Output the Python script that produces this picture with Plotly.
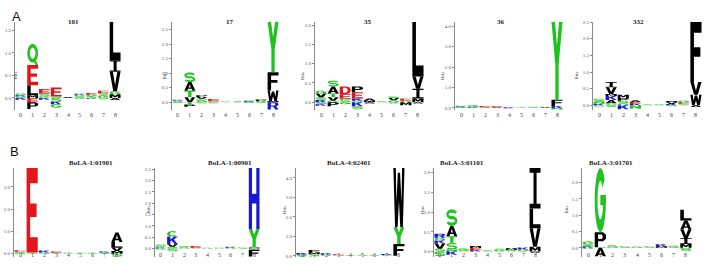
import math
import plotly.graph_objects as go

# ---------------- data ----------------
titles = ["101", "17", "35", "36", "332",
          "BoLA-1:01901", "BoLA-1:00901", "BoLA-4:02401", "BoLA-3:01101", "BoLA-3:01701"]
row_labels = ["A", "B"]
position_labels = ["0", "1", "2", "3", "4", "5", "6", "7", "8"]
end_labels = ["N", "C"]

# letter stacks per position (0..8), bottom -> top, heights in bits
pos_101 = [[("S", 0.03), ("K", 0.03), ("G", 0.04)],
           [("M", 0.06), ("L", 0.22), ("E", 0.45), ("Q", 0.47)],
           [("G", 0.04), ("S", 0.06), ("E", 0.1)],
           [("S", 0.03), ("E", 0.2)],
           [("V", 0.02)],
           [("S", 0.03), ("G", 0.04), ("K", 0.02)],
           [("S", 0.04), ("G", 0.03), ("E", 0.04)],
           [("G", 0.05), ("S", 0.06), ("E", 0.05)],
           [("M", 0.08), ("G", 0.07), ("V", 0.43), ("I", 0.26), ("L", 0.85)]]
neg_101 = [[("K", 0.04)], [("E", 0.1), ("P", 0.15)], [("K", 0.04)],
           [("S", 0.08), ("K", 0.06), ("G", 0.08)], [], [("G", 0.02)],
           [("K", 0.02)], [("S", 0.03)], [("A", 0.05)]]

pos_17 = [[("S", 0.03), ("G", 0.03), ("K", 0.02)],
          [("V", 0.17), ("T", 0.23), ("A", 0.29), ("S", 0.33)],
          [("G", 0.06), ("S", 0.06), ("V", 0.06), ("P", 0.06)],
          [("S", 0.03), ("E", 0.08)],
          [("G", 0.03)],
          [("S", 0.02)],
          [("K", 0.03), ("S", 0.04)],
          [("G", 0.04), ("P", 0.05)],
          [("M", 0.04), ("W", 0.36), ("F", 0.63), ("Y", 1.73)]]
neg_17 = [[("G", 0.03)], [("T", 0.08), ("P", 0.08)], [("S", 0.04)], [("G", 0.04)],
          [], [], [("S", 0.03)], [("G", 0.03)], [("R", 0.25)]]

pos_35 = [[("K", 0.06), ("S", 0.07), ("V", 0.1), ("G", 0.07)],
          [("G", 0.04), ("V", 0.09), ("T", 0.1), ("A", 0.18), ("S", 0.15)],
          [("S", 0.05), ("G", 0.04), ("E", 0.12), ("D", 0.2)],
          [("S", 0.04), ("K", 0.06), ("E", 0.16), ("P", 0.15)],
          [("M", 0.05), ("A", 0.05)],
          [("S", 0.02)],
          [("G", 0.05), ("V", 0.06), ("S", 0.04)],
          [("G", 0.04), ("E", 0.06)],
          [("M", 0.1), ("I", 0.25), ("V", 0.32), ("L", 1.41)]]
neg_35 = [[("S", 0.05), ("K", 0.04)], [("P", 0.1)], [("G", 0.05)],
          [("K", 0.1), ("S", 0.08)], [("A", 0.03)], [], [("G", 0.03)],
          [("M", 0.08)], [("A", 0.03)]]

pos_36 = [[("G", 0.03), ("K", 0.04), ("S", 0.04)],
          [("K", 0.03), ("G", 0.04), ("S", 0.08)],
          [("S", 0.04), ("E", 0.05)],
          [("A", 0.03), ("E", 0.05)],
          [("K", 0.03)],
          [("S", 0.04)],
          [("G", 0.03), ("S", 0.03)],
          [("V", 0.03), ("S", 0.03)],
          [("K", 0.1), ("F", 0.3), ("Y", 3.8)]]
neg_36 = [[], [], [], [], [("K", 0.02)], [], [], [], [("N", 0.08)]]

pos_332 = [[("K", 0.05), ("N", 0.05), ("S", 0.1)],
           [("S", 0.06), ("A", 0.1), ("K", 0.12), ("M", 0.06), ("V", 0.2), ("I", 0.16)],
           [("G", 0.06), ("S", 0.08), ("P", 0.08), ("M", 0.1)],
           [("K", 0.04), ("E", 0.06), ("A", 0.05)],
           [("S", 0.03)],
           [("G", 0.03)],
           [("K", 0.04), ("V", 0.05), ("M", 0.04)],
           [("S", 0.05), ("E", 0.04), ("G", 0.05)],
           [("W", 0.32), ("V", 0.38), ("F", 1.8)]]
neg_332 = [[("G", 0.04)], [("S", 0.05)], [("K", 0.12)], [("N", 0.1)], [], [],
           [("S", 0.03)], [], [("A", 0.05)]]

pos_01901 = [[("G", 0.05), ("S", 0.04), ("E", 0.06)],
             [("S", 0.05), ("E", 3.8)],
             [("G", 0.05), ("K", 0.09)],
             [("S", 0.04), ("E", 0.06)],
             [("G", 0.04)],
             [("S", 0.04)],
             [("G", 0.04)],
             [("S", 0.05), ("K", 0.05)],
             [("M", 0.12), ("V", 0.15), ("L", 0.25), ("A", 0.43)]]
neg_01901 = [[("G", 0.03)], [("S", 0.03)], [], [], [], [], [], [("G", 0.02)], [("S", 0.13)]]

pos_00901 = [[("K", 0.05), ("G", 0.06), ("S", 0.07)],
             [("S", 0.08), ("V", 0.11), ("K", 0.34), ("C", 0.24)],
             [("G", 0.05), ("S", 0.07)],
             [("S", 0.04), ("E", 0.08)],
             [("G", 0.04)],
             [("S", 0.04)],
             [("G", 0.04), ("K", 0.04)],
             [("S", 0.05)],
             [("M", 0.05), ("Y", 0.8), ("H", 2.7)]]
neg_00901 = [[("G", 0.04)], [("S", 0.12)], [], [], [], [], [], [], [("S", 0.05), ("F", 0.3)]]

pos_02401 = [[("G", 0.05), ("K", 0.1)],
             [("S", 0.08), ("M", 0.1), ("F", 0.12)],
             [("G", 0.05), ("K", 0.08)],
             [("S", 0.03), ("E", 0.05)],
             [("G", 0.04)],
             [("S", 0.05)],
             [("G", 0.04)],
             [("S", 0.04), ("K", 0.05)],
             [("F", 0.6), ("Y", 0.87), ("W", 3.03)]]
neg_02401 = [[("S", 0.03)], [("G", 0.04)], [], [], [], [], [], [], []]

pos_01101 = [[("S", 0.07), ("V", 0.13), ("K", 0.08), ("G", 0.07), ("R", 0.1)],
             [("N", 0.05), ("S", 0.17), ("T", 0.17), ("A", 0.26), ("S", 0.42)],
             [("S", 0.04), ("G", 0.04)],
             [("K", 0.04), ("E", 0.05), ("M", 0.05)],
             [("S", 0.03)],
             [("G", 0.04), ("S", 0.03)],
             [("S", 0.04), ("M", 0.04)],
             [("G", 0.05), ("K", 0.05)],
             [("M", 0.12), ("V", 0.47), ("L", 0.5), ("I", 1.03)]]
neg_01101 = [[("S", 0.12)], [("K", 0.08)], [], [], [], [], [], [], [("A", 0.03)]]

pos_01701 = [[("K", 0.05), ("S", 0.06), ("G", 0.09)],
             [("S", 0.03), ("P", 0.45), ("G", 1.97)],
             [("G", 0.04), ("S", 0.04)],
             [("S", 0.05)],
             [("G", 0.04)],
             [("S", 0.05)],
             [("M", 0.05), ("K", 0.06)],
             [("S", 0.04), ("G", 0.03)],
             [("M", 0.12), ("I", 0.18), ("V", 0.26), ("A", 0.28), ("L", 0.33)]]
neg_01701 = [[("G", 0.03)], [("A", 0.26)], [], [], [], [], [], [], [("S", 0.1)]]

pos_stacks = [pos_101, pos_17, pos_35, pos_36, pos_332,
              pos_01901, pos_00901, pos_02401, pos_01101, pos_01701]
neg_stacks = [neg_101, neg_17, neg_35, neg_36, neg_332,
              neg_01901, neg_00901, neg_02401, neg_01101, neg_01701]
y_dticks = [0.5, 0.5, 0.5, 1, 0.5, 1, 0.5, 1, 0.5, 0.5]

# ---------------- styles ----------------
GREEN, RED, BLUE, BLACK = "#1fc21f", "#e3161c", "#1818d6", "#000000"
letter_color = {}
for ch in "STYQGCN":
    letter_color[ch] = GREEN
for ch in "ED":
    letter_color[ch] = RED
for ch in "KRH":
    letter_color[ch] = BLUE
for ch in "AVLIPWFM":
    letter_color[ch] = BLACK


def arc(cx, cy, rx, ry, a0, a1, n=22):
    pts = []
    for i in range(n + 1):
        a = math.radians(a0 + (a1 - a0) * i / n)
        pts.append((cx + rx * math.cos(a), cy + ry * math.sin(a)))
    return pts


# glyph outlines in a unit box; each glyph is a list of parts, each part a list of sub-paths (evenodd)
S_path = (arc(0.5, 0.7, 0.5, 0.3, 20, 270) + arc(0.5, 0.3, 0.3, 0.1, 90, -160)
          + arc(0.5, 0.3, 0.5, 0.3, -160, 90) + arc(0.5, 0.7, 0.3, 0.1, 270, 20))
G_path = (arc(0.5, 0.5, 0.5, 0.5, 40, 360) + [(1.0, 0.58), (0.5, 0.58), (0.5, 0.42), (0.74, 0.42)]
          + arc(0.5, 0.5, 0.25, 0.3, 345, 40))
C_path = arc(0.5, 0.5, 0.5, 0.5, 45, 315) + arc(0.5, 0.5, 0.25, 0.3, 315, 45)
GLYPHS = {
    "L": [[[(0, 0), (1, 0), (1, 0.2), (0.32, 0.2), (0.32, 1), (0, 1)]]],
    "E": [[[(0, 0), (1, 0), (1, 0.18), (0.32, 0.18), (0.32, 0.42), (0.9, 0.42), (0.9, 0.58),
            (0.32, 0.58), (0.32, 0.82), (1, 0.82), (1, 1), (0, 1)]]],
    "F": [[[(0, 0), (0.32, 0), (0.32, 0.42), (0.9, 0.42), (0.9, 0.58), (0.32, 0.58),
            (0.32, 0.82), (1, 0.82), (1, 1), (0, 1)]]],
    "T": [[[(0.35, 0), (0.65, 0), (0.65, 0.82), (1, 0.82), (1, 1), (0, 1), (0, 0.82), (0.35, 0.82)]]],
    "I": [[[(0, 0), (1, 0), (1, 0.12), (0.64, 0.12), (0.64, 0.88), (1, 0.88), (1, 1), (0, 1),
            (0, 0.88), (0.36, 0.88), (0.36, 0.12), (0, 0.12)]]],
    "H": [[[(0, 0), (0.3, 0), (0.3, 0.42), (0.7, 0.42), (0.7, 0), (1, 0), (1, 1), (0.7, 1),
            (0.7, 0.58), (0.3, 0.58), (0.3, 1), (0, 1)]]],
    "V": [[[(0.33, 0), (0.67, 0), (1, 1), (0.7, 1), (0.5, 0.3), (0.3, 1), (0, 1)]]],
    "Y": [[[(0.35, 0), (0.65, 0), (0.65, 0.45), (1, 1), (0.68, 1), (0.5, 0.7), (0.32, 1),
            (0, 1), (0.35, 0.45)]]],
    "W": [[[(0.15, 0), (0.38, 0), (0.5, 0.45), (0.62, 0), (0.85, 0), (1, 1), (0.78, 1),
            (0.73, 0.42), (0.6, 0.92), (0.4, 0.92), (0.27, 0.42), (0.22, 1), (0, 1)]]],
    "A": [[[(0, 0), (0.28, 0), (0.34, 0.2), (0.66, 0.2), (0.72, 0), (1, 0), (0.64, 1), (0.36, 1)],
           [(0.4, 0.35), (0.6, 0.35), (0.5, 0.72)]]],
    "P": [[[(0, 0), (0.3, 0), (0.3, 0.38), (0.75, 0.38), (1, 0.55), (1, 0.83), (0.75, 1), (0, 1)],
           [(0.3, 0.54), (0.62, 0.54), (0.7, 0.6), (0.7, 0.78), (0.62, 0.84), (0.3, 0.84)]]],
    "R": [[[(0, 0), (0.3, 0), (0.3, 0.4), (0.5, 0.4), (0.7, 0), (1, 0), (0.78, 0.45), (1, 0.6),
            (1, 0.83), (0.75, 1), (0, 1)],
           [(0.3, 0.55), (0.62, 0.55), (0.7, 0.6), (0.7, 0.78), (0.62, 0.84), (0.3, 0.84)]]],
    "D": [[[(0, 0), (0.6, 0), (0.9, 0.15), (1, 0.5), (0.9, 0.85), (0.6, 1), (0, 1)],
           [(0.3, 0.18), (0.55, 0.18), (0.68, 0.3), (0.72, 0.5), (0.68, 0.7), (0.55, 0.82), (0.3, 0.82)]]],
    "K": [[[(0, 0), (0.3, 0), (0.3, 0.35), (0.42, 0.48), (0.72, 0), (1, 0), (0.62, 0.62), (1, 1),
            (0.65, 1), (0.3, 0.62), (0.3, 1), (0, 1)]]],
    "M": [[[(0, 0), (0.25, 0), (0.25, 0.6), (0.42, 0.2), (0.58, 0.2), (0.75, 0.6), (0.75, 0),
            (1, 0), (1, 1), (0.7, 1), (0.5, 0.55), (0.3, 1), (0, 1)]]],
    "N": [[[(0, 0), (0.28, 0), (0.28, 0.55), (0.72, 0), (1, 0), (1, 1), (0.72, 1), (0.72, 0.45),
            (0.28, 1), (0, 1)]]],
    "S": [[S_path]],
    "G": [[G_path]],
    "C": [[C_path]],
    "Q": [[arc(0.5, 0.56, 0.5, 0.44, 0, 360), arc(0.5, 0.56, 0.26, 0.26, 0, 360)],
          [[(0.52, 0.28), (0.74, 0.28), (1.0, 0.0), (0.76, 0.0)]]],
}

# ---------------- geometry (pixels) ----------------
W, H = 709, 265
panel_left = [15, 172, 315, 455, 593, 14, 155, 296, 434, 582]
panel_right = [121, 279, 424, 563, 702, 123, 260, 405, 541, 692]
row_top = [22, 168]
row_bottom = [110, 257]
row_label_y = [115, 260]
row_title_y = [16, 163]
letter_width = 0.92


def px_x(p):
    return p / W


def px_y(p):
    return 1 - p / H


def glyph_path(letter, xc, y0, h):
    out = []
    for part in GLYPHS[letter]:
        segs = []
        for sub in part:
            pts = ["%.4f,%.5f" % (xc - letter_width / 2 + ux * letter_width, y0 + uy * h) for ux, uy in sub]
            segs.append("M" + "L".join(pts) + "Z")
        out.append("".join(segs))
    return out


fig = go.Figure()
shapes = []
annotations = []
layout_axes = {}

for i in range(10):
    k = i + 1
    row = 0 if i < 5 else 1
    xa = "x" if k == 1 else "x%d" % k
    ya = "y" if k == 1 else "y%d" % k
    pos = pos_stacks[i]
    neg = neg_stacks[i]
    tot_pos = [sum(h for _, h in col) for col in pos]
    tot_neg = [sum(h for _, h in col) for col in neg]
    ymax = max(tot_pos)
    ymin = -(max(tot_neg) + 0.02)

    # invisible anchor trace (keeps the axes alive)
    fig.add_trace(go.Scatter(x=list(range(9)), y=tot_pos, mode="markers",
                             marker=dict(opacity=0), hoverinfo="skip", showlegend=False,
                             xaxis=xa, yaxis=ya))

    for p in range(9):
        y = 0.0
        for letter, h in pos[p]:
            for path in glyph_path(letter, p, y, h):
                shapes.append(dict(type="path", path=path, xref=xa, yref=ya,
                                   fillcolor=letter_color[letter], line=dict(width=0),
                                   fillrule="evenodd", layer="above"))
            y += h
        y = 0.0
        for letter, h in neg[p]:
            for path in glyph_path(letter, p, y - h, h):
                shapes.append(dict(type="path", path=path, xref=xa, yref=ya,
                                   fillcolor=letter_color[letter], line=dict(width=0),
                                   fillrule="evenodd", layer="above"))
            y -= h

    xname = "xaxis" if k == 1 else "xaxis%d" % k
    yname = "yaxis" if k == 1 else "yaxis%d" % k
    layout_axes[xname] = dict(domain=[px_x(panel_left[i]), px_x(panel_right[i])],
                              range=[-0.5, 8.5], anchor=ya, showline=False, showgrid=False,
                              zeroline=False, showticklabels=False, ticks="", fixedrange=True,
                              automargin=False)
    layout_axes[yname] = dict(domain=[px_y(row_bottom[row]), px_y(row_top[row])],
                              range=[ymin, ymax], anchor=xa, showline=True, linecolor="#8a8a8a",
                              linewidth=1, ticks="outside", ticklen=2, tickcolor="#8a8a8a",
                              tick0=0, dtick=y_dticks[i], tickformat=".1f", showgrid=False,
                              zeroline=False, fixedrange=True, automargin=False,
                              tickfont=dict(size=5, color="#555555", family="Liberation Serif"))

    # position labels N 0..8 C
    for p in range(9):
        annotations.append(dict(x=p, y=px_y(row_label_y[row]), xref=xa, yref="paper",
                                text=position_labels[p], showarrow=False,
                                font=dict(size=6, color="#444444", family="Liberation Serif")))
    annotations.append(dict(x=-0.8, y=px_y(row_label_y[row]), xref=xa, yref="paper",
                            text=end_labels[0], showarrow=False,
                            font=dict(size=7, color="#444444", family="Liberation Serif")))
    annotations.append(dict(x=9.0, y=px_y(row_label_y[row]), xref=xa, yref="paper",
                            text=end_labels[1], showarrow=False,
                            font=dict(size=7, color="#444444", family="Liberation Serif")))
    # title
    annotations.append(dict(x=px_x((panel_left[i] + panel_right[i]) / 2 - 2), y=px_y(row_title_y[row]),
                            xref="paper", yref="paper", text="<b>%s</b>" % titles[i], showarrow=False,
                            font=dict(size=7, color="#222222", family="Liberation Serif")))
    # "Bits" axis title
    if i != 5:
        bx = max(panel_left[i] - 12, 11)
        annotations.append(dict(x=px_x(bx), y=px_y(row_top[row] + 48), xref="paper", yref="paper",
                                text="Bits", textangle=-90, showarrow=False,
                                font=dict(size=5, color="#444444", family="Liberation Serif")))

annotations.append(dict(x=px_x(10), y=px_y(7), xref="paper", yref="paper", text=row_labels[0],
                        showarrow=False, font=dict(size=13, color="#111111", family="Liberation Sans")))
annotations.append(dict(x=px_x(8), y=px_y(151), xref="paper", yref="paper", text=row_labels[1],
                        showarrow=False, font=dict(size=13, color="#111111", family="Liberation Sans")))

fig.update_layout(width=W, height=H, margin=dict(l=0, r=0, t=0, b=0, pad=0, autoexpand=False),
                  paper_bgcolor="white", plot_bgcolor="white",
                  shapes=shapes, annotations=annotations, showlegend=False, **layout_axes)

fig.write_html("out.html", config={"displayModeBar": False},
               post_script="document.body.style.margin='0';document.body.style.padding='0';document.body.style.overflow='hidden';")
